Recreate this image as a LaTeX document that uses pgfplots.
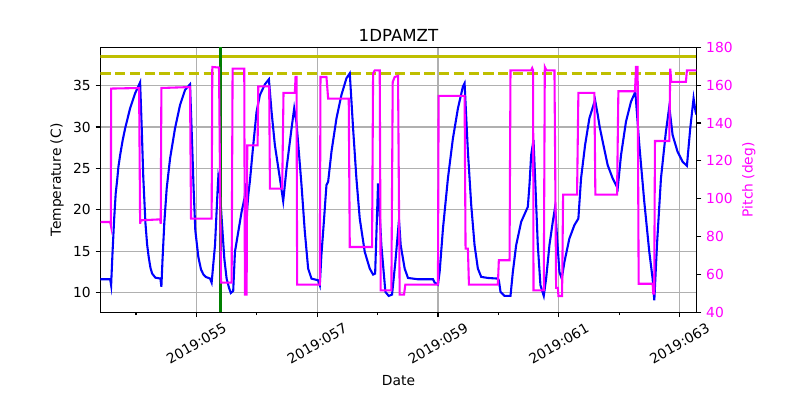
\documentclass[border=0pt]{standalone}
\usepackage{fontspec}
\setmainfont{DejaVu Sans}
\usepackage{pgfplots}
\usepackage{pgfplotstable}
\pgfplotsset{compat=1.18}
\definecolor{mplblue}{rgb}{0,0,1}
\definecolor{mplmag}{rgb}{1,0,1}
\definecolor{mplolive}{rgb}{0.75,0.75,0}
\definecolor{mplgreen}{rgb}{0,0.5,0}
\definecolor{mplgrid}{HTML}{B0B0B0}

% temperature 1DPAMZT (C), time in day of year 2019
\pgfplotstableread{
t T
53.413 11.61
53.573 11.61
53.589 10.89
53.610 14.50
53.640 19.00
53.665 22.00
53.689 23.60
53.710 25.20
53.738 26.61
53.780 28.40
53.821 29.84
53.903 32.26
53.986 34.07
54.069 35.40
54.096 29.84
54.121 24.00
54.157 18.40
54.185 15.80
54.211 14.30
54.240 13.00
54.268 12.30
54.322 11.80
54.405 11.70
54.421 10.70
54.440 14.00
54.470 18.50
54.509 22.58
54.565 26.21
54.647 29.84
54.730 32.66
54.813 34.48
54.895 35.16
54.925 29.00
54.955 22.50
54.983 17.50
55.033 14.30
55.077 12.80
55.116 12.20
55.154 11.90
55.226 11.70
55.253 11.21
55.309 15.73
55.353 22.58
55.364 23.99
55.380 23.39
55.419 18.95
55.463 14.11
55.501 11.69
55.540 10.60
55.570 9.95
55.610 10.20
55.639 14.92
55.694 17.34
55.749 19.76
55.800 21.50
55.820 23.20
55.838 19.80
55.860 21.80
55.887 23.50
55.942 27.82
55.997 31.85
56.052 33.87
56.135 35.16
56.201 35.77
56.245 31.85
56.300 27.82
56.383 23.79
56.438 21.05
56.493 25.00
56.576 29.84
56.620 32.26
56.658 30.50
56.686 28.00
56.741 22.98
56.796 17.34
56.851 12.90
56.906 11.69
57.016 11.49
57.044 10.89
57.070 14.50
57.099 17.34
57.154 22.98
57.182 23.39
57.237 27.02
57.320 31.05
57.402 33.87
57.485 35.89
57.540 36.49
57.595 29.84
57.650 23.79
57.705 18.95
57.788 14.92
57.871 12.90
57.926 12.18
57.960 12.30
58.008 23.19
58.063 15.73
58.130 10.08
58.185 9.60
58.240 9.76
58.295 13.71
58.355 18.80
58.383 15.73
58.449 12.90
58.504 11.77
58.669 11.61
58.918 11.61
58.945 11.21
59.000 10.97
59.028 12.50
59.083 17.74
59.165 23.79
59.248 28.63
59.331 32.26
59.413 34.88
59.441 35.28
59.496 27.02
59.551 20.56
59.606 15.73
59.661 12.90
59.716 11.90
59.826 11.77
59.992 11.69
60.008 11.49
60.036 10.08
60.102 9.60
60.201 9.60
60.240 12.50
60.295 15.73
60.378 18.55
60.488 20.36
60.515 22.98
60.543 26.61
60.582 28.43
60.609 23.79
60.653 15.73
60.697 10.89
60.752 9.60
60.791 11.69
60.846 15.73
60.901 18.55
60.940 20.36
60.973 16.53
61.011 12.50
61.050 11.69
61.094 13.71
61.176 16.53
61.259 18.15
61.325 18.95
61.369 23.79
61.436 27.82
61.507 31.05
61.601 33.27
61.645 31.50
61.678 30.00
61.728 28.23
61.810 25.40
61.893 23.79
61.976 22.58
62.031 26.61
62.113 30.65
62.196 33.06
62.268 34.27
62.334 27.82
62.416 20.97
62.499 14.92
62.554 11.69
62.582 9.07
62.626 15.73
62.692 23.79
62.774 29.44
62.830 32.46
62.885 29.03
62.967 27.02
63.050 25.81
63.122 25.32
63.177 29.84
63.232 33.47
63.265 31.85
63.280 31.50
}\temptab

% pitch (deg)
\pgfplotstableread{
t P
53.413 87.7
53.573 87.7
53.584 86.0
53.589 158.2
54.052 158.5
54.069 86.8
54.080 88.6
54.399 89.1
54.410 86.8
54.421 158.5
54.895 159.0
54.912 89.5
55.253 89.5
55.264 169.6
55.375 169.3
55.408 55.7
55.584 55.7
55.600 168.7
55.793 168.7
55.804 49.3
55.832 49.3
55.843 128.2
56.014 128.2
56.025 159.4
56.206 159.4
56.218 105.3
56.421 105.3
56.443 155.9
56.631 155.9
56.642 164.3
56.658 164.3
56.669 54.6
57.044 54.6
57.055 164.3
57.154 164.3
57.182 152.9
57.523 152.9
57.540 74.5
57.909 74.5
57.926 166.1
57.953 167.8
58.036 167.8
58.052 51.6
58.229 51.6
58.251 161.7
58.284 164.3
58.339 164.9
58.366 49.3
58.438 49.3
58.460 54.6
59.000 54.6
59.011 154.3
59.441 154.3
59.457 73.6
59.496 73.6
59.513 54.6
59.992 54.6
60.008 67.5
60.185 67.5
60.201 167.8
60.543 167.8
60.560 169.0
60.575 167.8
60.582 51.6
60.752 51.6
60.769 169.6
60.796 167.8
60.929 167.8
60.956 52.9
60.985 52.9
60.995 48.6
61.055 48.6
61.072 102.2
61.303 102.2
61.325 155.9
61.590 155.9
61.606 102.2
61.965 102.2
61.987 156.8
62.262 156.8
62.279 169.6
62.306 169.6
62.323 55.1
62.554 55.1
62.565 49.9
62.580 49.9
62.593 130.5
62.830 130.5
62.846 168.7
62.863 161.7
63.105 161.7
63.122 167.8
63.280 167.8
}\pitchtab

\pgfplotsset{
  mplax/.style={
    width=429.1bp, height=190.8bp, scale only axis,
    xmin=53.413, xmax=63.28,
    tick align=outside,
    major tick length=3.5bp, minor tick length=2bp,
    tick style={black, line width=0.8bp},
    axis line style={line width=0.8bp},
    font=\fontsize{10}{12}\selectfont,
    /pgf/number format/assume math mode=true,
  }
}

\begin{document}
\begin{tikzpicture}
\begin{axis}[mplax, name=ax1,
  ymin=7.62, ymax=39.63,
  ytick={10,15,20,25,30,35},
  xtick={55,57,59,61,63},
  xticklabels={2019:055,2019:057,2019:059,2019:061,2019:063},
  minor xtick={54,56,58,60,62},
  xtick pos=bottom, ytick pos=left,
  xticklabel style={anchor=center, yshift=-19bp, rotate=30},
  grid=major, grid style={mplgrid, line width=0.8bp},
  title={1DPAMZT}, title style={font=\fontsize{12}{14}\selectfont, yshift=-5bp},
  xlabel={Date}, ylabel={Temperature (C)},
]
\addplot[mplblue, line width=1.5bp] table[x=t, y=T] {\temptab};
\addplot[mplolive, line width=2bp] coordinates {(53.413,38.5) (63.28,38.5)};
\addplot[mplolive, line width=2bp, dash pattern=on 7.4bp off 3.2bp] coordinates {(53.413,36.5) (63.28,36.5)};
\addplot[mplgreen, line width=2bp] coordinates {(55.40,7.62) (55.40,39.63)};
\end{axis}
\begin{axis}[mplax,
  ymin=40, ymax=180,
  ytick={40,60,80,100,120,140,160,180},
  axis x line=none, axis y line*=right,
  yticklabel pos=right, ylabel near ticks,
  yticklabel style={mplmag},
  ylabel={Pitch (deg)}, ylabel style={mplmag},
]
\addplot[mplmag, line width=1.5bp] table[x=t, y=P] {\pitchtab};
\end{axis}
\pgfresetboundingbox
\path[use as bounding box] (ax1.south west) ++(-72.36bp,-63.14bp) rectangle ++(576bp,288bp);
\end{tikzpicture}
\end{document}
